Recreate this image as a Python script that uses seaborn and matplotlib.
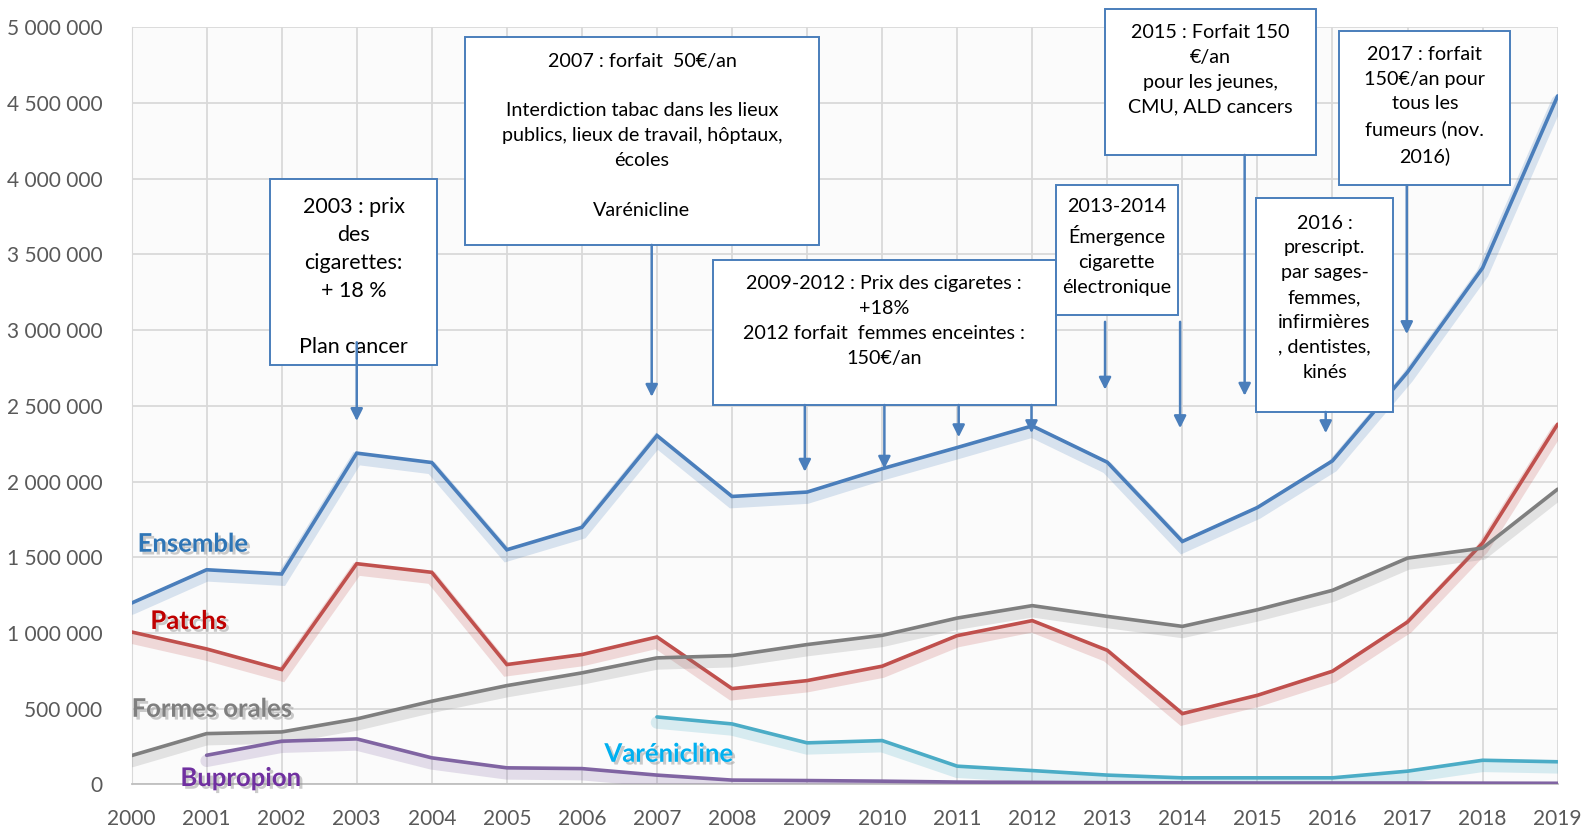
import numpy as np
import pandas as pd
import matplotlib.pyplot as plt
import matplotlib.patheffects as pe
from matplotlib.patches import Rectangle
import seaborn as sns

years = list(range(2000, 2020))

ensemble = [1198000, 1418000, 1390000, 2188000, 2126000, 1550000, 1698000, 2304000, 1902000, 1931000,
            2085000, 2225000, 2368000, 2128000, 1605000, 1829000, 2137000, 2723000, 3411000, 4547000]
patchs = [1007000, 895000, 759000, 1458000, 1401000, 792000, 858000, 974000, 633000, 686000,
          781000, 983000, 1082000, 886000, 468000, 589000, 748000, 1073000, 1594000, 2379000]
formes_orales = [191000, 336000, 347000, 433000, 550000, 653000, 737000, 836000, 851000, 924000,
                 985000, 1099000, 1181000, 1110000, 1044000, 1154000, 1282000, 1495000, 1561000, 1950000]
varenicline_years = list(range(2007, 2020))
varenicline = [446000, 400000, 275000, 290000, 121000, 92000, 62000, 44000, 44000, 44000, 88000, 160000, 150000]
bupropion_years = list(range(2001, 2020))
bupropion = [193000, 286000, 301000, 176000, 110000, 105000, 62000, 29000, 26000, 22000,
             16000, 14000, 12000, 11000, 10000, 10000, 10000, 9000, 8000]

series_names = ["Ensemble", "Patchs", "Formes orales", "Varénicline", "Bupropion"]
line_colors = ["#4A7EBB", "#C0504D", "#7F7F7F", "#4BACC6", "#8064A2"]
label_colors = ["#2E75B6", "#C00000", "#7F7F7F", "#00B0F0", "#7030A0"]

frames = [
    pd.DataFrame({"annee": years, "valeur": ensemble, "serie": "Ensemble"}),
    pd.DataFrame({"annee": years, "valeur": patchs, "serie": "Patchs"}),
    pd.DataFrame({"annee": years, "valeur": formes_orales, "serie": "Formes orales"}),
    pd.DataFrame({"annee": varenicline_years, "valeur": varenicline, "serie": "Varénicline"}),
    pd.DataFrame({"annee": bupropion_years, "valeur": bupropion, "serie": "Bupropion"}),
]
df = pd.concat(frames, ignore_index=True)

# annotation boxes: (x0, x1, y0, y1, text centre y, text, fontsize, linespacing)
boxes = [
    (2001.85, 2004.07, 2767000, 3997000, 3349000,
     "2003 : prix\ndes\ncigarettes:\n+ 18 %\n\nPlan cancer", 15.5, 1.5),
    (2004.44, 2009.16, 3563000, 4939000, 4284000,
     "2007 : forfait  50€/an\n\nInterdiction tabac dans les lieux\npublics, lieux de travail, hôptaux,\nécoles\n\nVarénicline", 14.2, 1.56),
    (2007.74, 2012.31, 2506000, 3462000, 3061000,
     "2009-2012 : Prix des cigaretes :\n+18%\n2012 forfait  femmes enceintes :\n150€/an", 14.2, 1.56),
    (2012.31, 2013.94, 3101000, 3957000, 3549000,
     "2013-2014\nÉmergence\ncigarette\nélectronique", 14.2, 1.56),
    (2012.97, 2015.78, 4157000, 5120000, 4719000,
     "2015 : Forfait 150\n€/an\npour les jeunes,\nCMU, ALD cancers", 14.2, 1.56),
    (2014.98, 2016.81, 2460000, 3870000, 3215000,
     "2016 :\nprescript.\npar sages-\nfemmes,\ninfirmières\n, dentistes,\nkinés", 14.2, 1.56),
    (2016.09, 2018.37, 3957000, 4973000, 4485000,
     "2017 : forfait\n150€/an pour\ntous les\nfumeurs (nov.\n2016)", 14.2, 1.56),
]

# arrows: (x, y start, y end)
arrows = [
    (2003.0, 2920000, 2400000),
    (2006.93, 3563000, 2560000),
    (2008.97, 2506000, 2065000),
    (2010.03, 2506000, 2085000),
    (2011.02, 2506000, 2293000),
    (2011.99, 2506000, 2320000),
    (2012.97, 3055000, 2607000),
    (2013.97, 3055000, 2353000),
    (2014.83, 4157000, 2567000),
    (2015.91, 2460000, 2320000),
    (2016.99, 3957000, 2974000),
]

# series labels: (name, x, y)
labels = [
    ("Ensemble", 2000.08, 1537000),
    ("Patchs", 2000.25, 1027000),
    ("Formes orales", 2000.0, 447000),
    ("Varénicline", 2006.3, 150000),
    ("Bupropion", 2000.65, -10000),
]

sns.set_style("whitegrid")
plt.rcParams['font.family'] = ['Lato', 'DejaVu Sans']

fig = plt.figure(figsize=(15.87, 8.27), dpi=100)
ax = fig.add_axes([0.0829, 0.0514, 0.8986, 0.9156])
ax.set_facecolor("#FBFBFB")

sns.lineplot(data=df, x="annee", y="valeur", hue="serie", hue_order=series_names,
             palette=line_colors, linewidth=2.6, legend=False, ax=ax, zorder=3)

for line, col in zip(ax.lines, line_colors):
    line.set_path_effects([
        pe.SimpleLineShadow(offset=(0, -4), shadow_color=col, alpha=0.2, linewidth=9),
        pe.Normal(),
    ])
    line.set_solid_joinstyle("miter")

ax.set_xlim(2000, 2019)
ax.set_ylim(0, 5000000)
ax.set_xticks(years)
ax.set_yticks(np.arange(0, 5000001, 500000))
ax.set_yticklabels([f"{int(v):,}".replace(",", " ") for v in np.arange(0, 5000001, 500000)])
ax.tick_params(axis="both", labelsize=15, colors="#595959", length=0)
ax.tick_params(axis="y", pad=21)
ax.tick_params(axis="x", pad=18)
ax.set_xlabel("")
ax.set_ylabel("")
ax.grid(True, color="#D9D9D9", linewidth=1.3)
for side in ["top", "right"]:
    ax.spines[side].set_visible(False)
ax.spines["left"].set_color("#D9D9D9")
ax.spines["bottom"].set_color("#BFBFBF")
ax.spines["bottom"].set_linewidth(1.3)

box_color = "#4A7EBB"
for x0, x1, y0, y1, ty, txt, fs, ls in boxes:
    ax.add_patch(Rectangle((x0, y0), x1 - x0, y1 - y0, facecolor="white",
                           edgecolor=box_color, linewidth=1.4, zorder=5, clip_on=False))
    ax.text((x0 + x1) / 2, ty, txt, ha="center", va="center", fontsize=fs,
            linespacing=ls, color="black", zorder=6)

for x, ys, ye in arrows:
    ax.annotate("", xy=(x, ye), xytext=(x, ys),
                arrowprops=dict(arrowstyle="-|>", color=box_color, lw=1.8,
                                mutation_scale=18, shrinkA=0, shrinkB=0),
                zorder=7)

for (name, x, y), col in zip(labels, label_colors):
    ax.text(x, y, name, fontsize=18.5, fontweight="bold", color=col, zorder=4,
            path_effects=[pe.withSimplePatchShadow(offset=(2, -2), shadow_rgbFace="#999999", alpha=0.5)])

plt.savefig("out.png", dpi=100)
plt.close()
